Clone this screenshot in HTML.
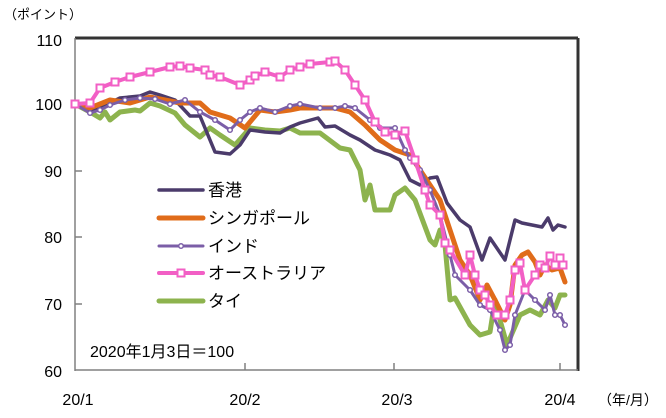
<!DOCTYPE html>
<html><head><meta charset="utf-8"><style>
html,body{margin:0;padding:0;background:#fff;}
svg text{font-family:"Liberation Sans","Noto Sans CJK JP",sans-serif;fill:#000;}
</style></head><body>
<svg width="666" height="413" viewBox="0 0 666 413" xmlns="http://www.w3.org/2000/svg">
<defs>
<marker id="mc" markerUnits="userSpaceOnUse" markerWidth="8" markerHeight="8" refX="4" refY="4"><circle cx="4" cy="4" r="2.3" fill="#fff" stroke="#7B5EA7" stroke-width="1.5"/></marker>
<marker id="ms" markerUnits="userSpaceOnUse" markerWidth="10" markerHeight="10" refX="5" refY="5"><rect x="1.5" y="1.5" width="7" height="7" fill="#fff" stroke="#F25FC5" stroke-width="2"/></marker>
</defs>
<rect x="75" y="38" width="503" height="332" fill="#fff"/>
<line x1="75" y1="38" x2="578" y2="38" stroke="#333" stroke-width="3"/>
<line x1="578" y1="38" x2="578" y2="371" stroke="#333" stroke-width="3"/>
<line x1="75" y1="38" x2="75" y2="371" stroke="#808080" stroke-width="1.5"/>
<line x1="75" y1="370" x2="578" y2="370" stroke="#808080" stroke-width="1.5"/>
<g stroke="#808080" stroke-width="1.5">
<line x1="75" y1="104" x2="82" y2="104"/><line x1="75" y1="171" x2="82" y2="171"/><line x1="75" y1="237" x2="82" y2="237"/><line x1="75" y1="304" x2="82" y2="304"/>
<line x1="245" y1="370" x2="245" y2="363"/><line x1="394" y1="370" x2="394" y2="363"/><line x1="560" y1="370" x2="560" y2="363"/>
</g>
<g font-size="16" text-anchor="end">
<text x="62" y="46">110</text><text x="62" y="110">100</text><text x="62" y="177">90</text><text x="62" y="243">80</text><text x="62" y="310">70</text><text x="62" y="377">60</text>
</g>
<g font-size="16" text-anchor="middle">
<text x="78" y="405">20/1</text><text x="245" y="405">20/2</text><text x="397" y="405">20/3</text><text x="560" y="405">20/4</text>
</g>
<text x="4" y="19" font-size="13">（ポイント）</text>
<text x="598" y="405" font-size="14">（年/月）</text>
<text x="90" y="357" font-size="16">2020年1月3日＝100</text>
<g fill="none" stroke-linejoin="round" stroke-linecap="round">
<polyline stroke="#8DB34E" stroke-width="5" points="75,104 90,112 100,118 105,112 110,120 120,112 135,110 140,111 150,103 160,106 175,113 185,125 200,137 210,128 220,135 235,145 250,128 265,130 280,131 290,128 300,133 320,133 340,148 350,150 360,170 365,200 370,185 375,210 390,210 395,195 405,188 415,200 430,240 435,245 440,230 445,245 450,300 455,298 470,325 480,335 490,332 495,300 500,320 507,345 520,315 530,310 540,315 548,300 555,308 560,295 565,295"/>
<polyline stroke="#4B3B6B" stroke-width="3.5" points="75,104 90,112 100,108 120,98 140,96 150,92 160,95 175,100 190,116 200,116 210,140 215,152 230,154 240,145 250,130 265,132 280,133 290,127 300,123 318,118 325,127 335,126 350,135 360,140 375,150 390,155 400,160 410,180 420,185 430,178 437,177 447,203 460,220 470,227 482,260 490,238 505,260 515,220 522,223 542,227 548,218 553,230 558,225 565,227"/>
<polyline stroke="#E06C1A" stroke-width="5" points="75,104 90,108 110,100 130,103 150,97 165,100 180,103 200,103 210,112 230,118 245,128 260,110 275,112 290,110 300,108 320,108 335,108 350,112 365,125 380,140 395,150 410,155 420,170 430,185 440,200 450,230 460,260 470,275 480,300 487,285 495,300 505,320 510,305 515,265 522,255 528,252 535,262 540,275 545,265 552,270 560,268 565,282"/>
<polyline stroke="#7B5EA7" stroke-width="3" marker-start="url(#mc)" marker-mid="url(#mc)" marker-end="url(#mc)" points="75,104 90,113 100,110 110,105 125,100 140,98 155,99 170,104 185,100 200,112 215,120 230,130 240,120 250,112 260,108 275,112 290,106 300,104 320,108 335,108 345,106 355,108 370,120 380,128 395,128 405,150 410,158 420,170 430,190 440,215 450,255 455,275 470,290 480,305 490,310 500,330 505,350 510,345 515,315 525,290 535,300 545,310 550,295 555,315 560,315 565,325"/>
<polyline stroke="#F25FC5" stroke-width="4" marker-start="url(#ms)" marker-mid="url(#ms)" marker-end="url(#ms)" points="75,104 90,103 100,88 115,82 130,77 150,72 170,67 180,66 190,68 205,70 210,75 220,77 240,85 250,80 255,76 265,72 280,77 290,70 300,67 310,64 330,62 335,61 345,70 355,85 365,100 375,122 385,132 395,135 405,131 415,160 425,190 430,205 440,215 445,243 450,250 465,275 470,255 475,275 480,290 485,295 490,305 497,315 505,315 510,300 515,270 520,263 525,290 535,275 540,265 545,268 550,256 555,265 560,258 563,265"/>
</g>
<g fill="none" stroke-linecap="round">
<line x1="159" y1="190" x2="203" y2="190" stroke="#4B3B6B" stroke-width="3.5"/>
<line x1="159" y1="218" x2="203" y2="218" stroke="#E06C1A" stroke-width="5"/>
<line x1="159" y1="246" x2="203" y2="246" stroke="#7B5EA7" stroke-width="3"/>
<circle cx="181" cy="246" r="2.3" fill="#fff" stroke="#7B5EA7" stroke-width="1.5"/>
<line x1="159" y1="273" x2="203" y2="273" stroke="#F25FC5" stroke-width="4"/>
<rect x="177.5" y="269.5" width="7" height="7" fill="#fff" stroke="#F25FC5" stroke-width="2"/>
<line x1="159" y1="301" x2="203" y2="301" stroke="#8DB34E" stroke-width="5"/>
</g>
<g font-size="17">
<text x="208" y="196">香港</text><text x="208" y="224">シンガポール</text><text x="208" y="252">インド</text><text x="208" y="279">オーストラリア</text><text x="208" y="307">タイ</text>
</g>
</svg>
</body></html>
